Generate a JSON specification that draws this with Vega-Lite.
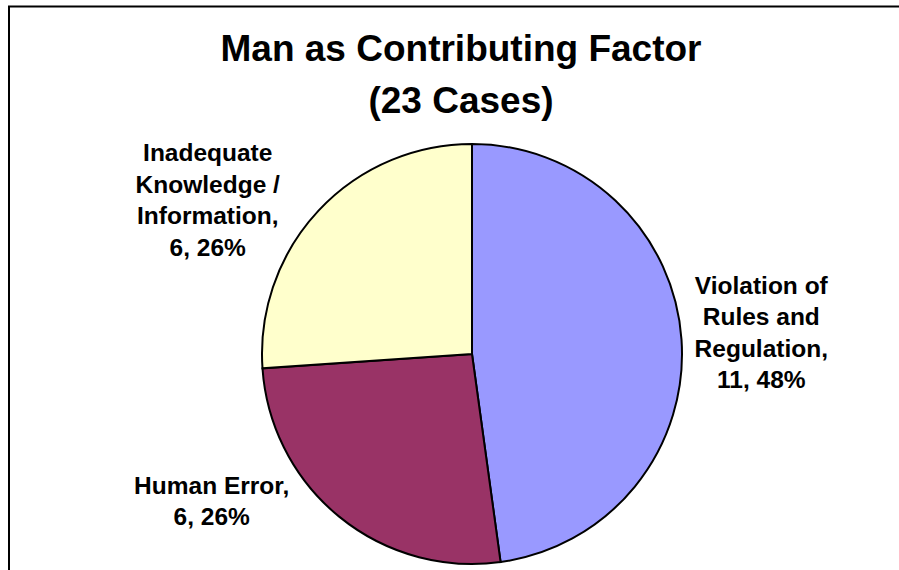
{
  "$schema": "https://vega.github.io/schema/vega-lite/v6.json",
  "autosize": {"type": "none"},
  "padding": {"left": 9, "top": 6.5, "right": 0, "bottom": 0},
  "width": 926,
  "height": 695,
  "background": "white",
  "config": {
    "view": {"stroke": null},
    "font": "Liberation Sans"
  },
  "title": {
    "text": ["Man as Contributing Factor", "(23 Cases)"],
    "font": "Liberation Sans",
    "fontSize": 37,
    "fontWeight": "bold",
    "color": "black",
    "anchor": "middle",
    "frame": "group",
    "baseline": "alphabetic",
    "offset": -144,
    "lineHeight": 52,
    "dx": -11
  },
  "datasets": {
    "factors": [
      {"factor": "Violation of Rules and Regulation", "cases": 11, "rank": 1, "label": "Violation of\nRules and\nRegulation,\n11, 48%"},
      {"factor": "Human Error", "cases": 6, "rank": 2, "label": "Human Error,\n6, 26%"},
      {"factor": "Inadequate Knowledge / Information", "cases": 6, "rank": 3, "label": "Inadequate\nKnowledge /\nInformation,\n6, 26%"}
    ],
    "frame": [{}]
  },
  "layer": [
    {
      "data": {"name": "frame"},
      "mark": {"type": "rect", "fill": null, "stroke": "black", "strokeWidth": 2},
      "encoding": {}
    },
    {
      "data": {"name": "factors"},
      "mark": {"type": "arc", "radius": 210, "stroke": "black", "strokeWidth": 2},
      "encoding": {
        "theta": {"field": "cases", "type": "quantitative", "stack": true},
        "order": {"field": "rank", "type": "quantitative"},
        "color": {
          "field": "factor",
          "type": "nominal",
          "scale": {
            "domain": ["Violation of Rules and Regulation", "Human Error", "Inadequate Knowledge / Information"],
            "range": ["#9999FF", "#993366", "#FFFFCC"]
          },
          "legend": null
        }
      }
    },
    {
      "data": {"name": "factors"},
      "mark": {"type": "text", "radius": 300, "dx": -10, "dy": -47, "fontSize": 24.5, "fontWeight": "bold", "lineHeight": 31.5, "align": "center", "baseline": "middle", "lineBreak": "\n", "color": "black"},
      "encoding": {
        "theta": {"field": "cases", "type": "quantitative", "stack": true},
        "order": {"field": "rank", "type": "quantitative"},
        "text": {"condition": {"test": "datum.rank === 1", "field": "label", "type": "nominal"}, "value": ""}
      }
    },
    {
      "data": {"name": "factors"},
      "mark": {"type": "text", "radius": 300, "dx": -71, "dy": -100, "fontSize": 24.5, "fontWeight": "bold", "lineHeight": 31.5, "align": "center", "baseline": "middle", "lineBreak": "\n", "color": "black"},
      "encoding": {
        "theta": {"field": "cases", "type": "quantitative", "stack": true},
        "order": {"field": "rank", "type": "quantitative"},
        "text": {"condition": {"test": "datum.rank === 2", "field": "label", "type": "nominal"}, "value": ""}
      }
    },
    {
      "data": {"name": "factors"},
      "mark": {"type": "text", "radius": 300, "dx": -45, "dy": 5, "fontSize": 24.5, "fontWeight": "bold", "lineHeight": 31.5, "align": "center", "baseline": "middle", "lineBreak": "\n", "color": "black"},
      "encoding": {
        "theta": {"field": "cases", "type": "quantitative", "stack": true},
        "order": {"field": "rank", "type": "quantitative"},
        "text": {"condition": {"test": "datum.rank === 3", "field": "label", "type": "nominal"}, "value": ""}
      }
    }
  ]
}
